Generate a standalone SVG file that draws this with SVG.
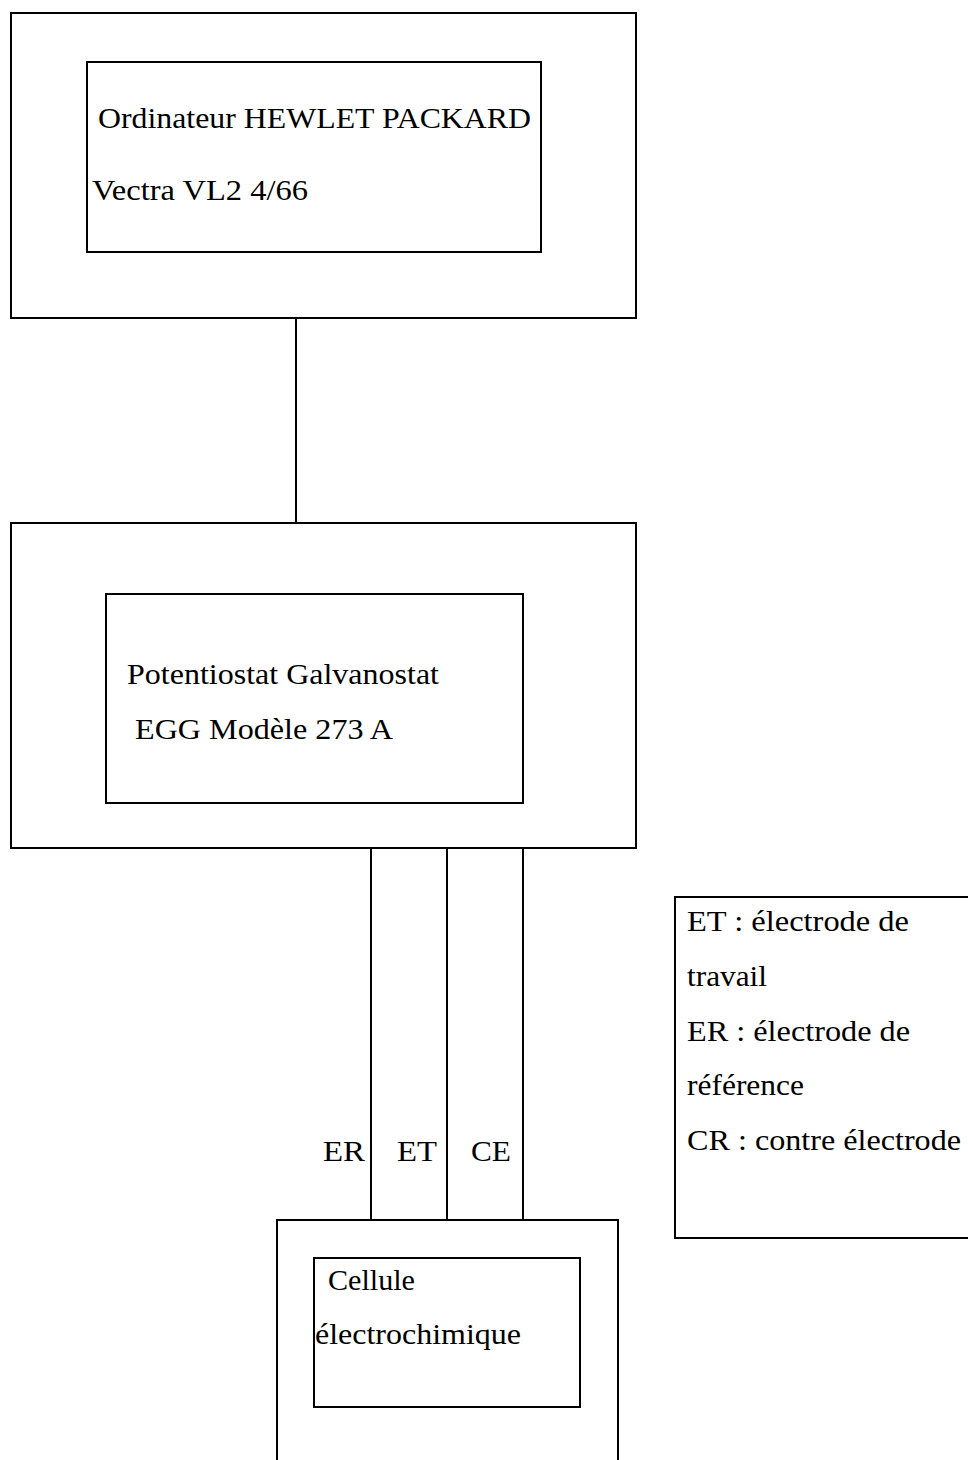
<svg xmlns="http://www.w3.org/2000/svg" width="968" height="1460" viewBox="0 0 968 1460">
<style>
.b{fill:none;stroke:#000;stroke-width:2}
.w{stroke:#000;stroke-width:2;fill:none}
text{font-family:"Liberation Serif","Times New Roman",serif;font-size:30px;fill:#000}
</style>
<rect x="0" y="0" width="968" height="1460" fill="#fff"/>
<g id="ordinateur">
<rect class="b" x="11" y="13" width="625" height="305"/>
<rect class="b" x="87" y="62" width="454" height="190"/>
<text x="98" y="128" textLength="433" lengthAdjust="spacingAndGlyphs">Ordinateur HEWLET PACKARD</text>
<text x="92" y="200" textLength="216" lengthAdjust="spacingAndGlyphs">Vectra VL2 4/66</text>
</g>
<g id="potentiostat">
<rect class="b" x="11" y="523" width="625" height="325"/>
<rect class="b" x="106" y="594" width="417" height="209"/>
<text x="127" y="684" textLength="312" lengthAdjust="spacingAndGlyphs">Potentiostat Galvanostat</text>
<text x="135" y="739" textLength="258" lengthAdjust="spacingAndGlyphs">EGG Modèle 273 A</text>
</g>
<g id="cellule">
<rect class="b" x="277" y="1220" width="341" height="250"/>
<rect class="b" x="314" y="1258" width="266" height="149"/>
<text x="328" y="1290" textLength="87" lengthAdjust="spacingAndGlyphs">Cellule</text>
<text x="315" y="1344" textLength="206" lengthAdjust="spacingAndGlyphs">électrochimique</text>
</g>
<g id="legende">
<rect class="b" x="675" y="897" width="310" height="341"/>
<text x="687" y="931" textLength="222" lengthAdjust="spacingAndGlyphs">ET : électrode de</text>
<text x="687" y="986" textLength="80" lengthAdjust="spacingAndGlyphs">travail</text>
<text x="687" y="1041" textLength="223" lengthAdjust="spacingAndGlyphs">ER : électrode de</text>
<text x="687" y="1095" textLength="117" lengthAdjust="spacingAndGlyphs">référence</text>
<text x="687" y="1150" textLength="274" lengthAdjust="spacingAndGlyphs">CR : contre électrode</text>
</g>
<g id="connectors">
<line class="w" x1="296" y1="318" x2="296" y2="523"/>
<line class="w" x1="371" y1="848" x2="371" y2="1220"/>
<line class="w" x1="447" y1="848" x2="447" y2="1220"/>
<line class="w" x1="523" y1="848" x2="523" y2="1220"/>
<text x="323" y="1161" textLength="42" lengthAdjust="spacingAndGlyphs">ER</text>
<text x="397" y="1161" textLength="40" lengthAdjust="spacingAndGlyphs">ET</text>
<text x="471" y="1161" textLength="40" lengthAdjust="spacingAndGlyphs">CE</text>
</g>
</svg>
